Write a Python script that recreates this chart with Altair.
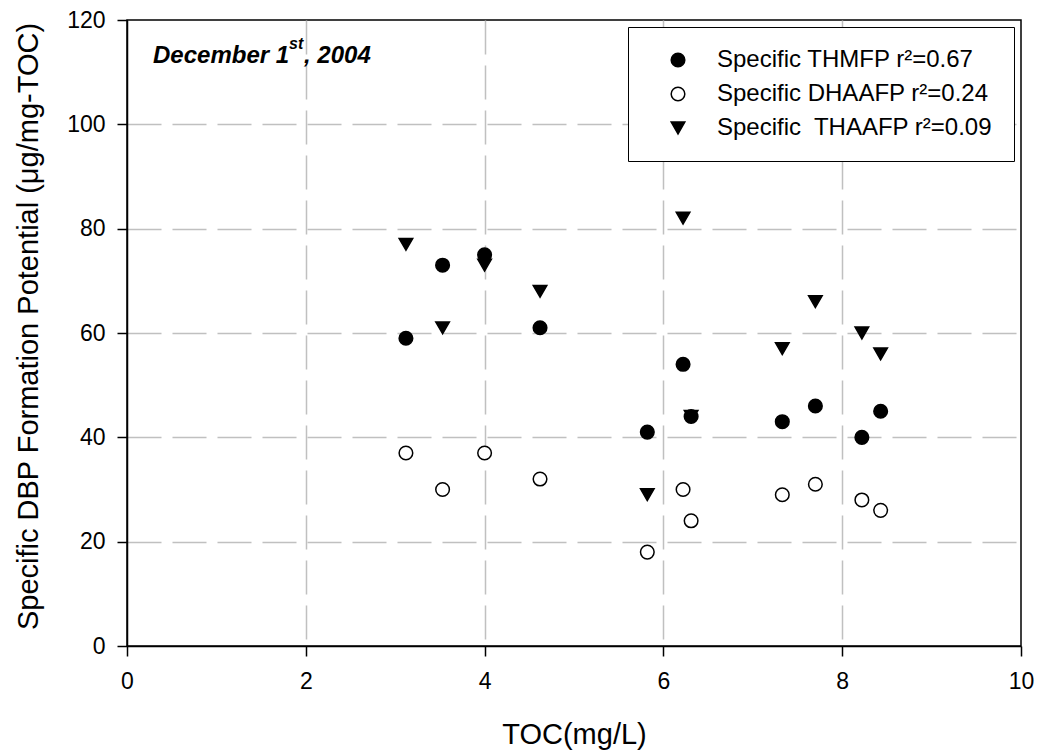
import altair as alt
import pandas as pd

# ---- data ----
toc = [3.12, 3.53, 4.0, 4.62, 5.82, 6.22, 6.31, 7.33, 7.7, 8.22, 8.43]
thmfp = [59, 73, 75, 61, 41, 54, 44, 43, 46, 40, 45]
dhaafp = [37, 30, 37, 32, 18, 30, 24, 29, 31, 28, 26]
thaafp = [77, 61, 73, 68, 29, 82, 44, 57, 66, 60, 56]

series = [
    "Specific THMFP r\u00b2=0.67",
    "Specific DHAAFP r\u00b2=0.24",
    "Specific\u00a0 THAAFP r\u00b2=0.09",
]
x_ticks = [0, 2, 4, 6, 8, 10]
y_ticks = [0, 20, 40, 60, 80, 100, 120]

rows = []
# draw order: triangles first, then open circles, then filled circles on top
for name, vals in [(series[2], thaafp), (series[1], dhaafp), (series[0], thmfp)]:
    for t, v in zip(toc, vals):
        rows.append({"toc": t, "val": v, "series": name})
df = pd.DataFrame(rows)

F = "Liberation Sans, Arial, Helvetica, sans-serif"

legend = alt.Legend(
    title=None, orient="none", legendX=501, legendY=7, padding=21,
    fillColor="white", strokeColor="black",
    labelFont=F, labelFontSize=24, labelColor="black", labelLimit=0,
    rowPadding=10, symbolOffset=17, labelOffset=27,
    symbolStrokeWidth=1.5,
)

grid_op_x = {"condition": {"test": "datum.value == 0 || datum.value == 10", "value": 0}, "value": 1}
grid_op_y = {"condition": {"test": "datum.value == 0 || datum.value == 120", "value": 0}, "value": 1}

common_axis = dict(
    grid=True, gridColor="#c0c0c0", gridDash=[34, 11], gridWidth=1.5,
    domainColor="black", domainWidth=1.5, tickColor="black", tickWidth=1.5,
    tickSize=10, labelFont=F, labelFontSize=23, labelColor="black",
    titleFont=F, titleFontSize=29, titleFontWeight="normal", titleColor="black",
)

points = alt.Chart(df).mark_point(filled=True, strokeWidth=1.5, opacity=1).encode(
    x=alt.X("toc:Q", scale=alt.Scale(domain=[0, 10], nice=False),
            axis=alt.Axis(values=x_ticks, format="d", title="TOC(mg/L)", labelFlush=False,
                          labelPadding=14, titleY=97, titleBaseline="alphabetic",
                          gridOpacity=grid_op_x, **common_axis)),
    y=alt.Y("val:Q", scale=alt.Scale(domain=[0, 120], nice=False),
            axis=alt.Axis(values=y_ticks, format="d",
                          title="Specific DBP Formation Potential (\u03bcg/mg-TOC)",
                          labelPadding=12, titleX=-99, titleY=306, titleAngle=-90,
                          titleAlign="center", titleBaseline="middle",
                          gridOpacity=grid_op_y, **common_axis)),
    fill=alt.Fill("series:N", scale=alt.Scale(domain=series, range=["black", "white", "black"]), legend=legend),
    stroke=alt.Stroke("series:N", scale=alt.Scale(domain=series, range=["black", "black", "black"]), legend=legend),
    shape=alt.Shape("series:N", scale=alt.Scale(domain=series, range=["circle", "circle", "triangle-down"]), legend=legend),
    size=alt.Size("series:N", scale=alt.Scale(domain=series, range=[185, 185, 260]), legend=legend),
)

one = pd.DataFrame({"k": [0]})
date_main = alt.Chart(one).mark_text(
    text="December 1", font=F, fontSize=24, fontWeight="bold", fontStyle="italic",
    align="left", baseline="alphabetic", color="black",
).encode(x=alt.value(26), y=alt.value(43))
date_sup = alt.Chart(one).mark_text(
    text="st", font=F, fontSize=16, fontWeight="bold", fontStyle="italic",
    align="left", baseline="alphabetic", color="black",
).encode(x=alt.value(162), y=alt.value(29))
date_end = alt.Chart(one).mark_text(
    text=", 2004", font=F, fontSize=24, fontWeight="bold", fontStyle="italic",
    align="left", baseline="alphabetic", color="black",
).encode(x=alt.value(177), y=alt.value(43))

chart = alt.layer(points, date_main, date_sup, date_end).properties(
    width=894, height=626,
    autosize=alt.AutoSizeParams(type="none"),
    padding={"left": 127, "top": 20, "right": 18, "bottom": 106},
    background="white",
).configure_view(stroke="black", strokeWidth=1.5)

chart.save("out.html", embed_options={"renderer": "svg", "actions": False})
